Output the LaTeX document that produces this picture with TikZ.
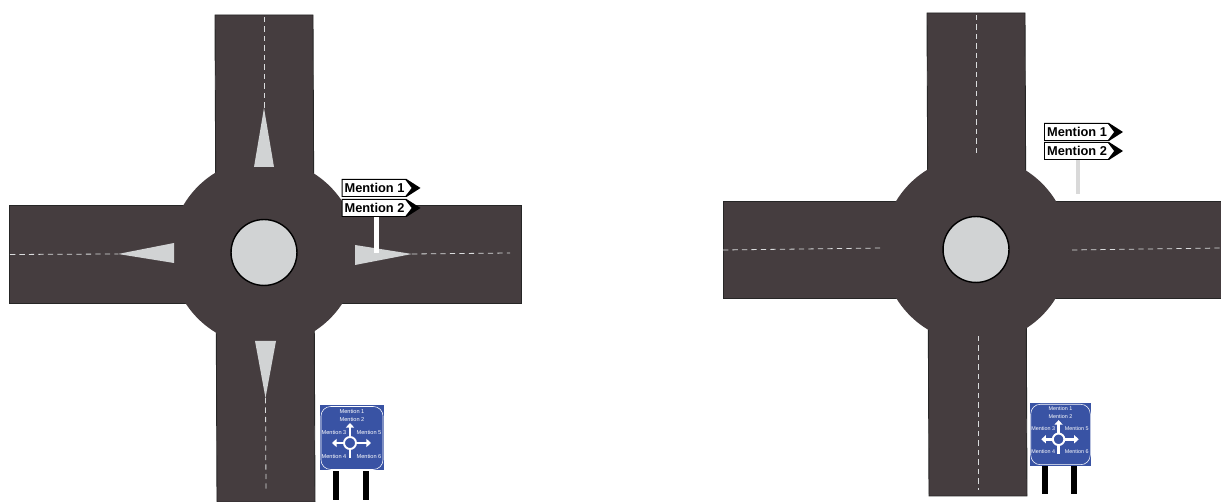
\documentclass[tikz,border=0pt]{standalone}
\usepackage{fontspec}
\setmainfont{Liberation Sans}
\usetikzlibrary{arrows.meta}

\definecolor{asphalt}{HTML}{453D3F}
\definecolor{islandgrey}{HTML}{D1D3D4}
\definecolor{signblue}{HTML}{3953A4}

\tikzset{
    road/.style={fill=asphalt,draw=black!85,line width=0.5pt},
    junction/.style={circle,fill=asphalt,inner sep=0pt,minimum size=1870*0.002cm},
    island/.style={circle,fill=islandgrey,draw=black,line width=0.8pt,inner sep=0pt,minimum size=660*0.002cm},
    wedge/.style={fill=islandgrey},
    laneline/.style={draw=islandgrey!80!white,line width=0.45pt,dash pattern=on 3pt off 2.4pt},
    signpost/.style={fill=black},
    signtext/.style={text=white,inner sep=0pt,font=\fontsize{3.2}{4}\selectfont},
    signarrow/.style={draw=white,line width=1.6pt,-{Triangle[length=2.6pt,width=4.6pt]}},
    mentionsign/.pic={
        \fill[black] (0,0) -- (65,0) -- (79,9) -- (65,18) -- (0,18) -- cycle;
        \fill[white] (1.2,1.2) -- (64,1.2) -- (70,9) -- (64,16.8) -- (1.2,16.8) -- cycle;
        \node[inner sep=0pt,font=\fontsize{7.3}{8}\selectfont\bfseries] (label) at (33,9.3) {\tikzpictext};
    },
    bluesign/.pic={
        \fill[signpost] (-19,33) rectangle (-13,62);
        \fill[signpost] (11,33) rectangle (17,62);
        \fill[signblue] (-32,-32.5) rectangle (32,32.5);
        \draw[white,line width=0.3pt,rounded corners=5.5pt] (-31,-31.5) rectangle (31,31.5);
        \node[circle,draw=white,line width=1.1pt,inner sep=0pt,minimum size=12*0.02cm,transform shape] (ring) at (-2,5) {};
        \coordinate (north) at (-2,-15);
        \coordinate (west) at (-20,5);
        \coordinate (east) at (19,5);
        \coordinate (south) at (-2,20);
        \draw[signarrow] (ring) -- (north);
        \draw[signarrow] (ring) -- (west);
        \draw[signarrow] (ring) -- (east);
        \draw[white,line width=1.6pt] (ring) -- (south);
        \node[signtext] (m1) at (0,-26.5) {Mention 1};
        \node[signtext] (m2) at (0,-19) {Mention 2};
        \node[signtext] (m3) at (-18,-6) {Mention 3};
        \node[signtext] (m5) at (17,-6) {Mention 5};
        \node[signtext] (m4) at (-18,18) {Mention 4};
        \node[signtext] (m6) at (17,18) {Mention 6};
    }
}

\begin{document}
\begin{tikzpicture}[x=0.02cm,y=-0.02cm]
    \useasboundingbox (0,0) rectangle (1221,502);

    % left roundabout
    \draw[road] (215,15) -- (313,15) -- (315,502) -- (217,502) -- cycle;
    \draw[road] (9,205) -- (521,205) -- (521,303) -- (9,303) -- cycle;
    \node[junction] (hubA) at (264,252.5) {};
    \node[island] (islandA) at (264,252.5) {};

    \coordinate (topA) at (264,17);
    \coordinate (topwedgeA) at (264,108);
    \coordinate (leftA) at (10,254.5);
    \coordinate (leftwedgeA) at (118,254);
    \coordinate (rightwedgeA) at (412,254);
    \coordinate (rightA) at (510,253);
    \coordinate (botwedgeA) at (265.5,398);
    \coordinate (botA) at (266,492);
    \draw[laneline] (topA) -- (topwedgeA);
    \draw[laneline] (leftA) -- (leftwedgeA);
    \draw[laneline] (rightwedgeA) -- (rightA);
    \draw[laneline] (botwedgeA) -- (botA);

    \fill[wedge] (topwedgeA) -- (274,167) -- (254,167) -- cycle;
    \fill[wedge] (leftwedgeA) -- (174,243) -- (174,263) -- cycle;
    \fill[wedge] (rightwedgeA) -- (355,245) -- (355,265) -- cycle;
    \fill[wedge] (botwedgeA) -- (255,341) -- (276,341) -- cycle;

    \fill[white] (374,215) rectangle (379,253);
    \pic[pic text={Mention 1}] (firstA) at (341.5,179) {mentionsign};
    \pic[pic text={Mention 2}] (secondA) at (341.5,199) {mentionsign};
    \pic (blueA) at (352,438) {bluesign};

    % right roundabout
    \draw[road] (927,13) -- (1025,13) -- (1027,496) -- (929,496) -- cycle;
    \draw[road] (723,201) -- (1221,201) -- (1221,298) -- (723,298) -- cycle;
    \node[junction] (hubB) at (976,249.5) {};
    \node[island] (islandB) at (976,249.5) {};

    \coordinate (topB) at (976,15);
    \coordinate (topendB) at (976,157);
    \coordinate (leftB) at (723,250);
    \coordinate (leftendB) at (883,248);
    \coordinate (rightendB) at (1072,250);
    \coordinate (rightB) at (1221,248);
    \coordinate (botendB) at (978,336);
    \coordinate (botB) at (978,490);
    \draw[laneline] (topB) -- (topendB);
    \draw[laneline] (leftB) -- (leftendB);
    \draw[laneline] (rightendB) -- (rightB);
    \draw[laneline] (botendB) -- (botB);

    \fill[black!15] (1076,150) rectangle (1080,194);
    \pic[pic text={Mention 1}] (firstB) at (1044,123) {mentionsign};
    \pic[pic text={Mention 2}] (secondB) at (1044,142) {mentionsign};
    \pic[scale=0.96,transform shape] (blueB) at (1060.5,434.5) {bluesign};
\end{tikzpicture}
\end{document}
